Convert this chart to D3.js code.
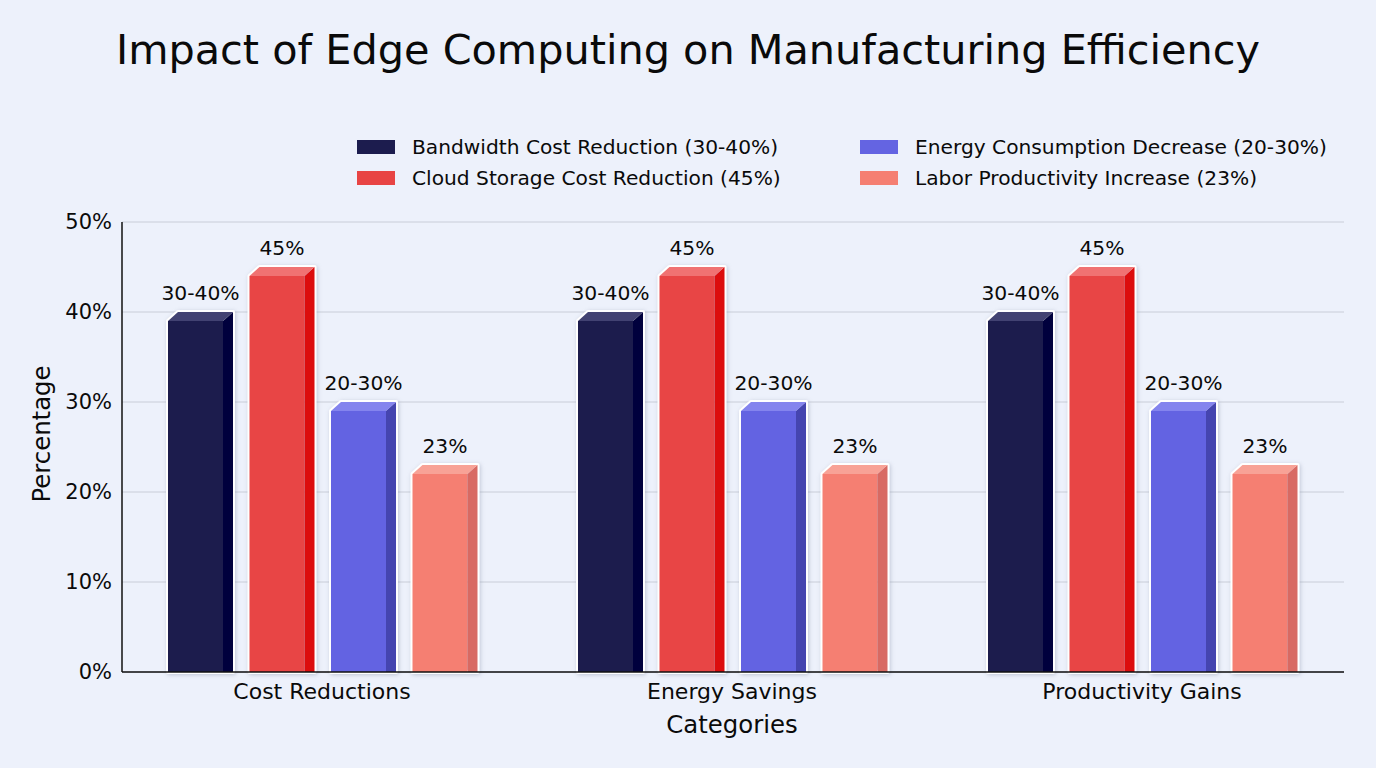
<!DOCTYPE html>
<html><head><meta charset="utf-8">
<script src="https://cdn.jsdelivr.net/npm/d3@7"></script>
<style>
html,body{margin:0;padding:0;background:#edf1fb;}
svg{display:block;font-family:"DejaVu Sans",sans-serif;}
</style></head>
<body>
<svg id="chart" width="1376" height="768"></svg>
<script>
const categories = ["Cost Reductions", "Energy Savings", "Productivity Gains"];
const seriesNames = ["Bandwidth Cost Reduction (30-40%)", "Cloud Storage Cost Reduction (45%)", "Energy Consumption Decrease (20-30%)", "Labor Productivity Increase (23%)"];
const seriesValues = [40, 45, 30, 23];
const seriesLabels = ["30-40%", "45%", "20-30%", "23%"];
const yTicks = [0, 10, 20, 30, 40, 50];
const frontColors = ["#1c1c4e", "#e84444", "#6464e2", "#f57f72"];
const sideColors  = ["#03033e", "#dc0a0a", "#4545b0", "#d86a64"];
const topColors   = ["#424272", "#f07272", "#8484ee", "#f8a296"];

(function(){
const svg = d3.select("#chart");
const W = 1376, H = 768;
const pLeft = 122, pRight = 1344, pTop = 222, pBottom = 672;

const defs = svg.append("defs");
const f = defs.append("filter").attr("id","shadow").attr("x","-20%").attr("y","-20%").attr("width","140%").attr("height","140%");
f.append("feDropShadow").attr("dx",1).attr("dy",1).attr("stdDeviation",2).attr("flood-color","#8890a8").attr("flood-opacity",0.45);

svg.append("rect").attr("width",W).attr("height",H).attr("fill","#edf1fb");

svg.append("text").attr("x",688).attr("y",64).attr("text-anchor","middle")
  .attr("font-size",41.4).attr("fill","#0a0a0a").text("Impact of Edge Computing on Manufacturing Efficiency");

const y = d3.scaleLinear().domain([0,50]).range([pBottom, pTop]);
const x0 = d3.scaleBand().domain(categories).range([117, 1347]).padding(0);
const depthX = 10, depthY = 9;
const x1 = d3.scaleBand().domain(d3.range(seriesNames.length)).range([51, 360.5]).paddingInner(16.5/81.5).paddingOuter(0);

// grid
svg.append("g").selectAll("line").data(yTicks).join("line")
  .attr("x1",pLeft).attr("x2",pRight).attr("y1",d=>y(d)).attr("y2",d=>y(d))
  .attr("stroke","#c9cdd8").attr("stroke-width",1);

// y axis
const yAxis = d3.axisLeft(y).tickValues(yTicks).tickFormat(d=>d+"%").tickSize(0).tickPadding(10);
const ga = svg.append("g").attr("transform",`translate(${pLeft},0)`).call(yAxis);
ga.select(".domain").remove();
ga.selectAll("text").attr("font-size",21).attr("fill","#0a0a0a").attr("font-family","DejaVu Sans");
svg.append("line").attr("x1",pLeft).attr("x2",pLeft).attr("y1",pTop).attr("y2",pBottom).attr("stroke","#111").attr("stroke-width",1.5);

// bars
const data = [];
categories.forEach(c => seriesValues.forEach((v,i) => data.push({c, i, v})));
const bars = svg.append("g").selectAll("g.bar").data(data).join("g").attr("class","bar").attr("filter","url(#shadow)");
bars.each(function(d){
  const g = d3.select(this);
  const bx = x0(d.c) + x1(d.i);
  const bw = x1.bandwidth() - depthX;
  const yt = y(d.v);
  const yf = yt + depthY;
  g.append("path").attr("d",`M${bx},${pBottom} L${bx},${yf} L${bx+depthX},${yt} L${bx+bw+depthX},${yt} L${bx+bw+depthX},${pBottom} Z`)
    .attr("fill","none").attr("stroke","#ffffff").attr("stroke-width",4).attr("stroke-linejoin","round");
  g.append("rect").attr("x",bx).attr("y",yf).attr("width",bw).attr("height",pBottom-yf).attr("fill",frontColors[d.i]);
  g.append("path").attr("d",`M${bx+bw},${yf} L${bx+bw+depthX},${yt} L${bx+bw+depthX},${pBottom} L${bx+bw},${pBottom} Z`).attr("fill",sideColors[d.i]);
  g.append("path").attr("d",`M${bx},${yf} L${bx+depthX},${yt} L${bx+bw+depthX},${yt} L${bx+bw},${yf} Z`).attr("fill",topColors[d.i]);
});
svg.append("g").selectAll("text").data(data).join("text")
  .attr("x",d=>x0(d.c)+x1(d.i)+x1.bandwidth()/2)
  .attr("y",d=>y(d.v)-12)
  .attr("text-anchor","middle").attr("font-size",20.3).attr("fill","#0a0a0a")
  .text(d=>seriesLabels[d.i]);

// x axis
svg.append("line").attr("x1",pLeft).attr("x2",pRight).attr("y1",pBottom).attr("y2",pBottom).attr("stroke","#111").attr("stroke-width",1.5);
const xAxis = d3.axisBottom(x0).tickSize(0).tickPadding(11);
const gx = svg.append("g").attr("transform",`translate(0,${pBottom})`).call(xAxis);
gx.select(".domain").remove();
gx.selectAll("text").attr("font-size",22).attr("fill","#0a0a0a").attr("font-family","DejaVu Sans");

svg.append("text").attr("x",732).attr("y",733).attr("text-anchor","middle").attr("font-size",24.4).attr("fill","#0a0a0a").text("Categories");
svg.append("text").attr("transform","translate(50,434) rotate(-90)").attr("text-anchor","middle").attr("font-size",24.4).attr("fill","#0a0a0a").text("Percentage");

// legend
const legPos = [[357,147],[357,178],[860,147],[860,178]];
const lg = svg.append("g").selectAll("g").data(seriesNames).join("g")
  .attr("transform",(d,i)=>`translate(${legPos[i][0]},${legPos[i][1]})`);
lg.append("rect").attr("x",0).attr("y",-7).attr("width",38).attr("height",14).attr("fill",(d,i)=>frontColors[i]);
lg.append("text").attr("x",55).attr("y",7).attr("font-size",20.2).attr("fill","#0a0a0a").text(d=>d);
})();
</script>
</body></html>
